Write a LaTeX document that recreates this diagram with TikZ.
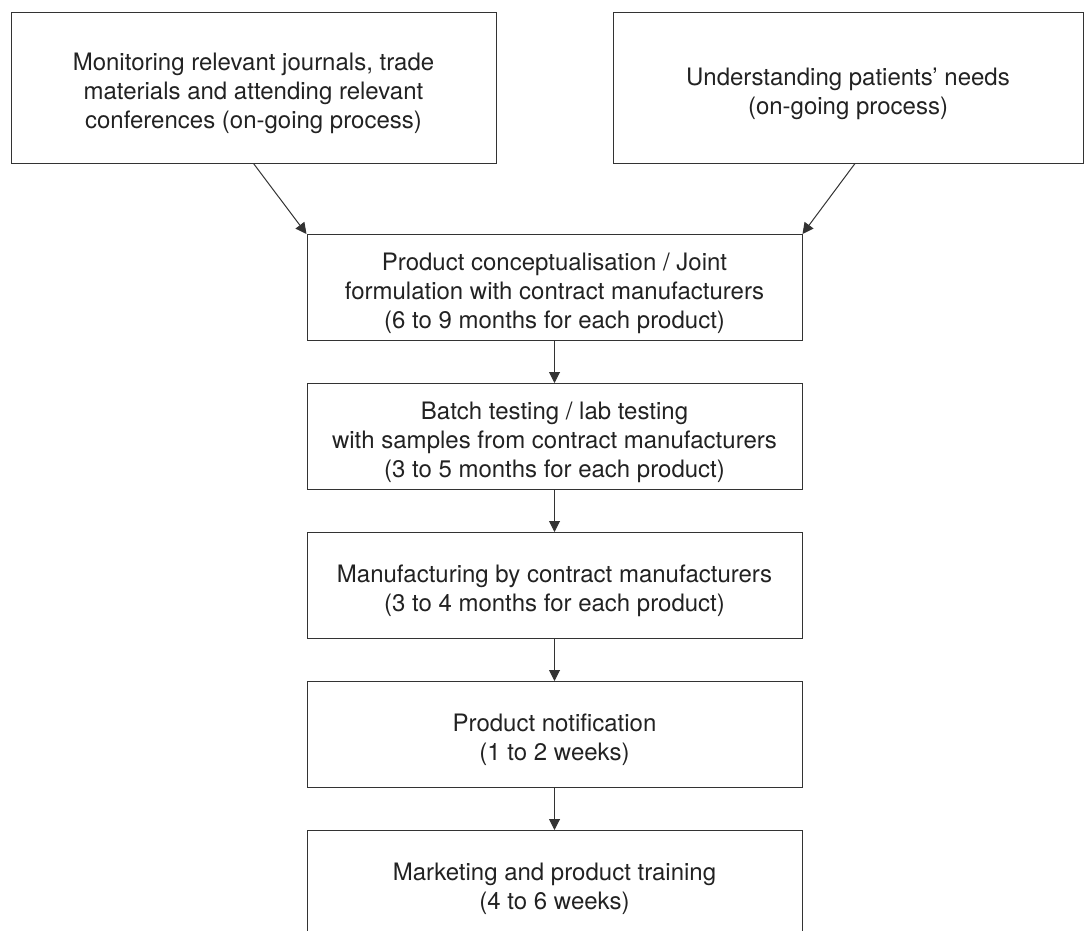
\documentclass[tikz,border=0pt]{standalone}
\usepackage{fontspec}
\setmainfont{TeX Gyre Heros}
\usetikzlibrary{arrows.meta,positioning}
\definecolor{linegray}{HTML}{333333}
\definecolor{textgray}{HTML}{222222}
% extra room above the first line, so the text sits a little lower
\newcommand{\lift}{\rule{0pt}{29pt}}

\begin{document}
\begin{tikzpicture}[x=1pt,y=1pt,->,>={Triangle[length=11pt,width=11pt]},node distance=149pt,
    topbox/.style={rectangle,draw=linegray,line width=1pt,minimum height=150pt,inner sep=0pt,align=center,text=textgray,font=\fontsize{24}{29}\selectfont},
    stepbox/.style={topbox,minimum width=495pt,minimum height=106pt},
    flow/.style={draw=linegray,line width=1pt}]
            \useasboundingbox (0,0) rectangle (1084,-931);

            \node[topbox, minimum width=485pt] (monitor) at (253.5,-88) {\lift Monitoring relevant journals, trade\\materials and attending relevant\\conferences (on-going process)};
            \node[topbox, minimum width=470pt] (patients) at (848,-88) {\lift Understanding patients' needs\\(on-going process)};

            \node[stepbox] (concept) at (554.5,-287.5) {\lift Product conceptualisation / Joint\\formulation with contract manufacturers\\(6 to 9 months for each product)};
            \node[stepbox] (batch) [below of = concept] {\lift Batch testing / lab testing\\with samples from contract manufacturers\\(3 to 5 months for each product)};
            \node[stepbox] (manuf) [below of = batch] {\lift Manufacturing by contract manufacturers\\(3 to 4 months for each product)};
            \node[stepbox] (notif) [below of = manuf] {\lift Product notification\\(1 to 2 weeks)};
            \node[stepbox] (market) [below of = notif] {\lift Marketing and product training\\(4 to 6 weeks)};

            \path[every edge/.style={flow}]
                (monitor.south) edge (concept.north west)
                ([xshift=7pt]patients.south) edge (concept.north east)
                (concept) edge (batch)
                (batch) edge (manuf)
                (manuf) edge (notif)
                (notif) edge (market)
                ;
        \end{tikzpicture}
\end{document}
